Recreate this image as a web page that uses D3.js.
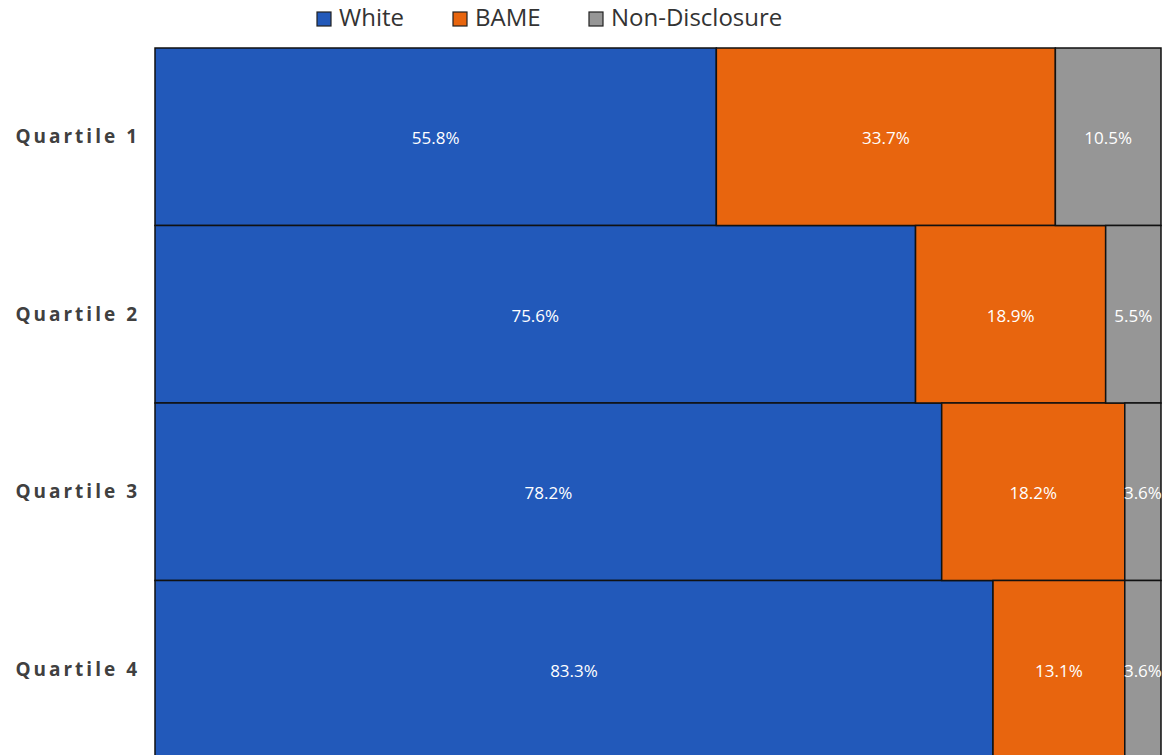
<!DOCTYPE html>
<html>
<head>
<meta charset="utf-8">
<script src="https://cdn.jsdelivr.net/npm/d3@7"></script>
<style>
  body { margin: 0; background: #fff; overflow: hidden; }
  svg { display: block; }
</style>
</head>
<body>
<div id="container"></div>
<script>
// data
var quartiles = ["Quartile 1", "Quartile 2", "Quartile 3", "Quartile 4"];
var seriesNames = ["White", "BAME", "Non-Disclosure"];
var white = [55.8, 75.6, 78.2, 83.3];
var bame = [33.7, 18.9, 18.2, 13.1];
var nonDisclosure = [10.5, 5.5, 3.6, 3.6];
var colors = ["#2259BA", "#E8650E", "#969696"];

var W = 1173, H = 755;
var margin = {top: 48, right: 12, bottom: -3, left: 155};

var svg = d3.select("#container")
  .append("svg")
    .attr("width", W)
    .attr("height", H);

var x = d3.scaleLinear()
  .domain([0, 100])
  .range([margin.left, W - margin.right]);

var y = d3.scaleBand()
  .domain(quartiles)
  .range([margin.top, H - margin.bottom])
  .padding(0);

// build stacked table from the arrays
var table = quartiles.map(function (q, i) {
  return {q: q, "White": white[i], "BAME": bame[i], "Non-Disclosure": nonDisclosure[i]};
});
var stacked = d3.stack().keys(seriesNames)(table);

var groups = svg.append("g")
  .selectAll("g")
  .data(stacked)
  .enter()
  .append("g")
    .attr("fill", function (d, i) { return colors[i]; });

groups.selectAll("rect")
  .data(function (d) { return d; })
  .enter()
  .append("rect")
    .attr("x", function (d) { return x(d[0]); })
    .attr("y", function (d) { return y(d.data.q); })
    .attr("width", function (d) { return x(d[1]) - x(d[0]); })
    .attr("height", y.bandwidth())
    .attr("stroke", "#111")
    .attr("stroke-width", 1.5);

groups.selectAll("text")
  .data(function (d) { return d; })
  .enter()
  .append("text")
    .attr("x", function (d) { return (x(d[0]) + x(d[1])) / 2; })
    .attr("y", function (d) { return y(d.data.q) + y.bandwidth() / 2 + 3; })
    .attr("text-anchor", "middle")
    .attr("dominant-baseline", "middle")
    .attr("fill", "#fff")
    .style("font-family", "'Open Sans', sans-serif")
    .style("font-size", "17px")
    .text(function (d) { return (d[1] - d[0]).toFixed(1) + "%"; });

// y axis labels
var yAxis = svg.append("g")
  .attr("transform", "translate(" + (margin.left - 15) + ",0)")
  .call(d3.axisLeft(y).tickSize(0).tickPadding(0));
yAxis.select(".domain").remove();
yAxis.selectAll("text")
  .attr("dy", "0.35em")
  .style("font-family", "'Open Sans', sans-serif")
  .style("font-size", "19px")
  .style("font-weight", "bold")
  .style("letter-spacing", "3px")
  .style("fill", "#404040");

// legend
var legendX = [317, 453, 589];
var legend = svg.append("g")
  .selectAll("g")
  .data(seriesNames)
  .enter()
  .append("g")
    .attr("transform", function (d, i) { return "translate(" + legendX[i] + ",12)"; });

legend.append("rect")
  .attr("width", 14)
  .attr("height", 14)
  .attr("fill", function (d, i) { return colors[i]; })
  .attr("stroke", "#222")
  .attr("stroke-width", 1.2);

legend.append("text")
  .attr("x", 22)
  .attr("y", 8)
  .attr("dominant-baseline", "middle")
  .style("font-family", "'Open Sans', sans-serif")
  .style("font-size", "24px")
  .style("fill", "#333")
  .text(function (d) { return d; });
</script>
</body>
</html>
